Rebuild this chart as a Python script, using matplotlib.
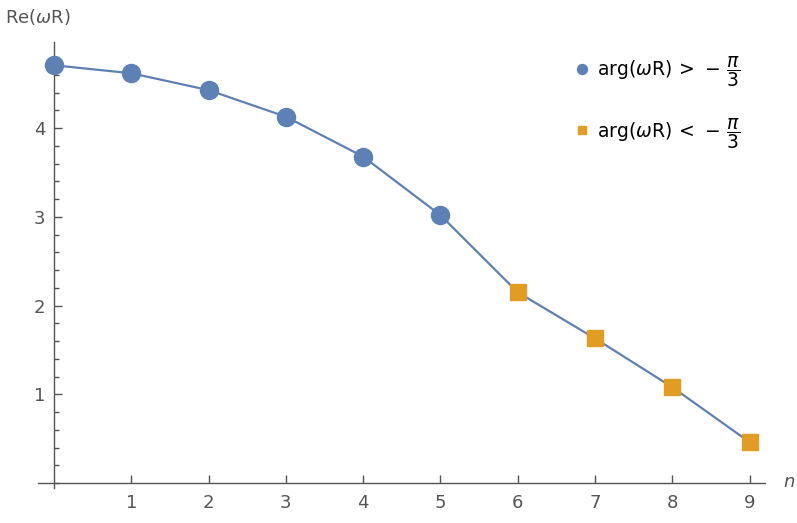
import matplotlib
matplotlib.use("Agg")
import matplotlib.pyplot as plt
from matplotlib.ticker import MultipleLocator

plt.rcParams['mathtext.fontset'] = 'dejavusans'
plt.rcParams['font.family'] = ['DejaVu Sans']

n_above = [0, 1, 2, 3, 4, 5]
re_above = [4.71, 4.62, 4.43, 4.13, 3.68, 3.02]
n_below = [6, 7, 8, 9]
re_below = [2.15, 1.63, 1.08, 0.46]
n_all = n_above + n_below
re_all = re_above + re_below
xticks = [1, 2, 3, 4, 5, 6, 7, 8, 9]
yticks = [1, 2, 3, 4]

blue = '#5E81B5'
orange = '#E19C24'
gray = '#555555'

fig = plt.figure(figsize=(7.97, 5.23), dpi=100)
ax = fig.add_axes([0.0483, 0.0663, 0.9117, 0.853])

ax.plot(n_all, re_all, color=blue, lw=1.6, zorder=2)
ax.plot(n_above, re_above, 'o', color=blue, ms=13, zorder=3,
        label=r'$\mathrm{arg}(\omega\mathrm{R})\,>\,-\,\dfrac{\pi}{3}$', ls='none')
ax.plot(n_below, re_below, 's', color=orange, ms=11.5, zorder=3,
        label=r'$\mathrm{arg}(\omega\mathrm{R})\,<\,-\,\dfrac{\pi}{3}$', ls='none')

ax.set_xlim(-0.2, 9.2)
ax.set_ylim(-0.06, 4.97)

for s in ['top', 'right']:
    ax.spines[s].set_visible(False)
ax.spines['left'].set_position(('data', 0))
ax.spines['bottom'].set_position(('data', 0))
for s in ['left', 'bottom']:
    ax.spines[s].set_color(gray)
    ax.spines[s].set_linewidth(1.0)

ax.set_xticks(xticks)
ax.set_yticks(yticks)
ax.yaxis.set_minor_locator(MultipleLocator(0.2))
ax.tick_params(axis='both', which='major', direction='in', length=6, width=1.0,
               colors=gray, labelsize=13, labelcolor=gray)
ax.tick_params(axis='y', which='minor', direction='in', length=3.5, width=1.0, colors=gray)
ax.tick_params(axis='x', pad=8)
ax.tick_params(axis='y', pad=6)

fig.text(0.006, 0.968, r'Re($\omega$R)', fontsize=13, color=gray, ha='left', va='center')
fig.text(0.990, 0.079, 'n', fontsize=13, color=gray, style='italic', ha='center', va='center')

leg = ax.legend(loc='upper right', frameon=False, fontsize=13.5, handletextpad=0.2,
                handlelength=1.2, labelspacing=1.4, bbox_to_anchor=(0.99, 1.01),
                markerscale=0.55)

fig.savefig('out.png', dpi=100)
